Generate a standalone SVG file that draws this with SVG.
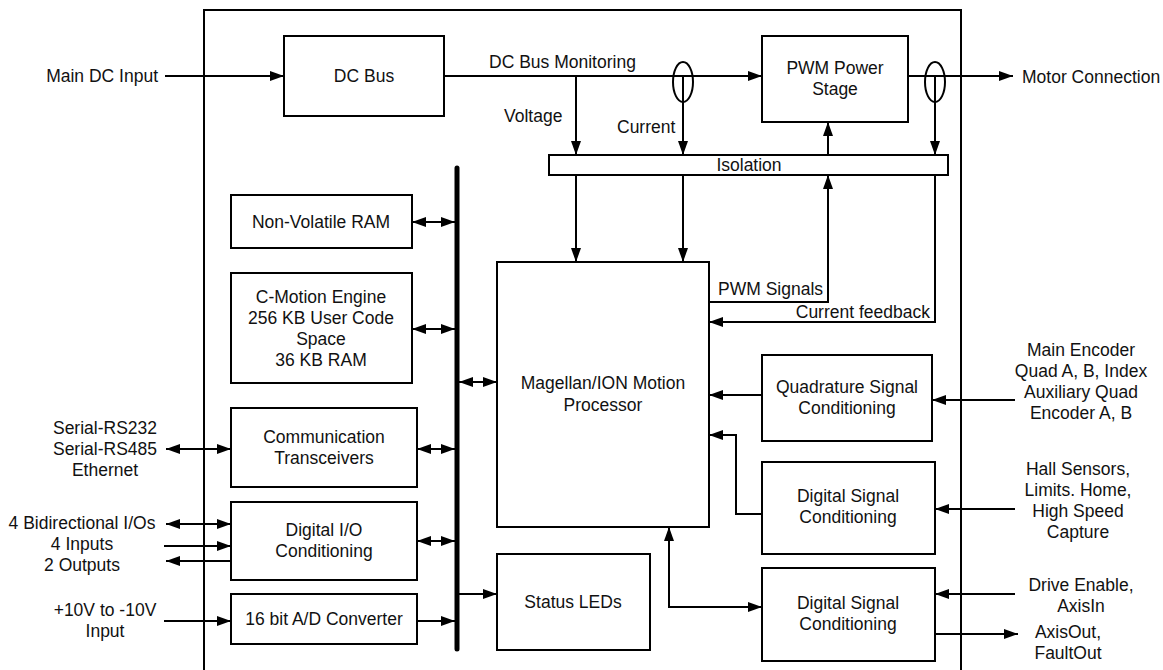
<svg xmlns="http://www.w3.org/2000/svg" width="1163" height="670" viewBox="0 0 1163 670">
<defs>
<marker id="ah" markerUnits="userSpaceOnUse" markerWidth="14" markerHeight="10" refX="14" refY="5" orient="auto-start-reverse" viewBox="0 0 14 10">
<path d="M0,0 L14,5 L0,10 z" fill="#000"/>
</marker>
<style>
.box{fill:#fff;stroke:#000;stroke-width:2}
.ln{fill:none;stroke:#000;stroke-width:2}
.a{marker-end:url(#ah)}
.aa{marker-start:url(#ah);marker-end:url(#ah)}
text{font-family:"Liberation Sans",Arial,sans-serif;font-size:17.5px;fill:#111}
.m{text-anchor:middle}
.e{text-anchor:end}
</style>
</defs>
<rect width="1163" height="670" fill="#fff"/>
<path id="frame" class="ln" d="M204,680 L204,10 L961,10 L961,680"/>

<g id="connectors">
<line class="ln a" x1="165" y1="76" x2="284" y2="76"/>
<line class="ln a" x1="444" y1="76" x2="762" y2="76"/>
<line class="ln a" x1="576" y1="76" x2="576" y2="155"/>
<line class="ln a" x1="683" y1="76" x2="683" y2="155"/>
<ellipse class="ln" cx="683" cy="82" rx="10" ry="20"/>
<line class="ln a" x1="908" y1="76" x2="1013" y2="76"/>
<line class="ln a" x1="935" y1="76" x2="935" y2="155"/>
<ellipse class="ln" cx="935" cy="82" rx="10" ry="20"/>
<line class="ln a" x1="576" y1="175" x2="576" y2="262"/>
<line class="ln a" x1="683" y1="175" x2="683" y2="262"/>
<line class="ln a" x1="828" y1="155" x2="828" y2="122"/>
<path class="ln a" d="M709,302 L828,302 L828,175"/>
<path class="ln a" d="M935,175 L935,322 L709,322"/>
<line id="bus" x1="457" y1="168" x2="457" y2="649" stroke="#000" stroke-width="5" stroke-linecap="round"/>
<line class="ln aa" x1="412" y1="222" x2="455" y2="222"/>
<line class="ln aa" x1="412" y1="329" x2="455" y2="329"/>
<line class="ln aa" x1="459" y1="382" x2="497" y2="382"/>
<line class="ln aa" x1="417" y1="449" x2="455" y2="449"/>
<line class="ln aa" x1="166" y1="449" x2="231" y2="449"/>
<line class="ln aa" x1="417" y1="541" x2="455" y2="541"/>
<line class="ln aa" x1="166" y1="524" x2="231" y2="524"/>
<line class="ln a" x1="164" y1="546" x2="231" y2="546"/>
<line class="ln a" x1="231" y1="561" x2="166" y2="561"/>
<line class="ln a" x1="164" y1="621" x2="231" y2="621"/>
<line class="ln a" x1="417" y1="621" x2="455" y2="621"/>
<line class="ln a" x1="459" y1="594" x2="497" y2="594"/>
<line class="ln a" x1="762" y1="395" x2="709" y2="395"/>
<path class="ln a" d="M762,514 L736,514 L736,435 L709,435"/>
<path class="ln aa" d="M669,527 L669,607 L762,607"/>
<line class="ln a" x1="1015" y1="400" x2="932" y2="400"/>
<line class="ln a" x1="1015" y1="509" x2="935" y2="509"/>
<line class="ln a" x1="1015" y1="594" x2="935" y2="594"/>
<line class="ln a" x1="935" y1="634" x2="1018" y2="634"/>
<text x="489" y="68">DC Bus Monitoring</text>
<text x="504" y="122">Voltage</text>
<text x="617" y="133">Current</text>
<text x="718" y="295">PWM Signals</text>
<text x="930" y="318" class="e">Current feedback</text>
</g>

<g id="dcbus"><rect class="box" x="284" y="36" width="160" height="80"/><text class="m" x="364" y="82">DC Bus</text></g>
<g id="pwm"><rect class="box" x="762" y="36" width="146" height="86"/><text class="m" x="835" y="74">PWM Power</text><text class="m" x="835" y="95">Stage</text></g>
<g id="isolation"><rect class="box" x="549" y="155" width="399" height="20"/><text class="m" x="749" y="171">Isolation</text></g>
<g id="nvram"><rect class="box" x="231" y="195" width="181" height="53"/><text class="m" x="321" y="228">Non-Volatile RAM</text></g>
<g id="cmotion"><rect class="box" x="231" y="273" width="181" height="110"/>
<text class="m" x="321" y="303">C-Motion Engine</text><text class="m" x="321" y="324">256 KB User Code</text><text class="m" x="321" y="345">Space</text><text class="m" x="321" y="366">36 KB RAM</text></g>
<g id="comm"><rect class="box" x="231" y="408" width="186" height="79"/><text class="m" x="324" y="443">Communication</text><text class="m" x="324" y="464">Transceivers</text></g>
<g id="digio"><rect class="box" x="231" y="502" width="186" height="78"/><text class="m" x="324" y="536">Digital I/O</text><text class="m" x="324" y="557">Conditioning</text></g>
<g id="adc"><rect class="box" x="231" y="594" width="186" height="50"/><text class="m" x="324" y="625">16 bit A/D Converter</text></g>
<g id="magellan"><rect class="box" x="497" y="262" width="212" height="265"/><text class="m" x="603" y="389">Magellan/ION Motion</text><text class="m" x="603" y="411">Processor</text></g>
<g id="status"><rect class="box" x="497" y="554" width="153" height="96"/><text class="m" x="573" y="608">Status LEDs</text></g>
<g id="quad"><rect class="box" x="762" y="355" width="170" height="86"/><text class="m" x="847" y="393">Quadrature Signal</text><text class="m" x="847" y="414">Conditioning</text></g>
<g id="dsc1"><rect class="box" x="762" y="462" width="173" height="92"/><text class="m" x="848" y="502">Digital Signal</text><text class="m" x="848" y="523">Conditioning</text></g>
<g id="dsc2"><rect class="box" x="762" y="568" width="173" height="93"/><text class="m" x="848" y="609">Digital Signal</text><text class="m" x="848" y="630">Conditioning</text></g>

<g id="ext-left">
<text class="e" x="158" y="82">Main DC Input</text>
<text class="m" x="105" y="434">Serial-RS232</text><text class="m" x="105" y="455">Serial-RS485</text><text class="m" x="105" y="476">Ethernet</text>
<text class="m" x="82" y="529">4 Bidirectional I/Os</text><text class="m" x="82" y="550">4 Inputs</text><text class="m" x="82" y="571">2 Outputs</text>
<text class="m" x="105" y="616">+10V to -10V</text><text class="m" x="105" y="637">Input</text>
</g>
<g id="ext-right">
<text x="1022" y="83">Motor Connection</text>
<text class="m" x="1081" y="356">Main Encoder</text><text class="m" x="1081" y="377">Quad A, B, Index</text><text class="m" x="1081" y="398">Auxiliary Quad</text><text class="m" x="1081" y="419">Encoder A, B</text>
<text class="m" x="1078" y="475">Hall Sensors,</text><text class="m" x="1078" y="496">Limits. Home,</text><text class="m" x="1078" y="517">High Speed</text><text class="m" x="1078" y="538">Capture</text>
<text class="m" x="1081" y="591">Drive Enable,</text><text class="m" x="1081" y="612">AxisIn</text>
<text class="m" x="1068" y="638">AxisOut,</text><text class="m" x="1068" y="659">FaultOut</text>
</g>
</svg>
